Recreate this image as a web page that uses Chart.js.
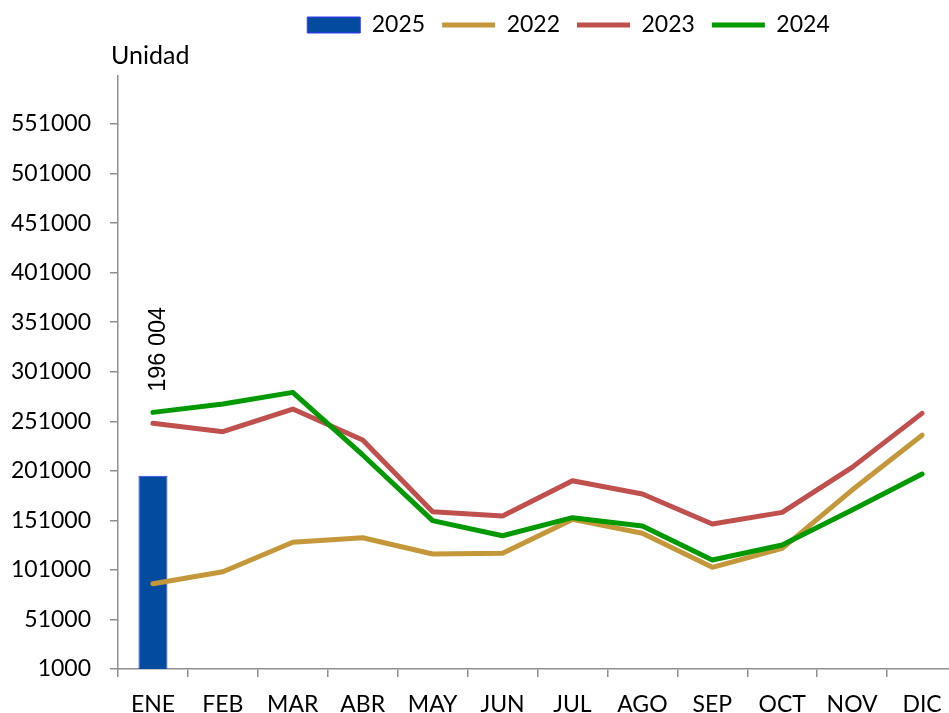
<!DOCTYPE html>
<html>
<head>
<meta charset="utf-8">
<script src="https://cdn.jsdelivr.net/npm/chart.js@4.4.1/dist/chart.umd.min.js"></script>
<style>
  html, body { margin: 0; padding: 0; overflow: hidden; background: #fff; }
  canvas { display: block; }
</style>
</head>
<body>
<canvas id="chart" width="957" height="713"></canvas>
<script>
var meses = ['ENE', 'FEB', 'MAR', 'ABR', 'MAY', 'JUN', 'JUL', 'AGO', 'SEP', 'OCT', 'NOV', 'DIC'];
var serie2025 = [196004];
var serie2022 = [87000, 99200, 128900, 133500, 117100, 117800, 152000, 138000, 103600, 122800, 181600, 237000];
var serie2023 = [249000, 240500, 263400, 232100, 159800, 155400, 191000, 177600, 147300, 159100, 204500, 259000];
var serie2024 = [260000, 268400, 280200, 217000, 150700, 135500, 153700, 145300, 111000, 126100, 161500, 197800];
var ticksY = [1000, 51000, 101000, 151000, 201000, 251000, 301000, 351000, 401000, 451000, 501000, 551000];

document.addEventListener('DOMContentLoaded', function() {
    var canvas = document.getElementById('chart');
    var ctx = canvas.getContext('2d');
    var fuente = 'Lato, "Open Sans", sans-serif';
    var gris = '#8f8f8f';

    // rotated value above the 2025 bar
    var etiquetaBarra = {
        id: 'etiquetaBarra',
        afterDatasetsDraw: function(chart) {
            var meta = chart.getDatasetMeta(0);
            var c = chart.ctx;
            meta.data.forEach(function(bar, i) {
                var v = chart.data.datasets[0].data[i];
                var txt = String(v).replace(/\B(?=(\d{3})+(?!\d))/g, ' ');
                c.save();
                c.translate(bar.x + 6, bar.y - 84);
                c.rotate(-Math.PI / 2);
                c.font = '23.5px "Liberation Sans", Arial, sans-serif';
                c.fillStyle = '#000';
                c.textAlign = 'left';
                c.textBaseline = 'middle';
                c.fillText(txt, 0, 0);
                c.restore();
            });
        }
    };

    // "Unidad" above the y axis
    var tituloEje = {
        id: 'tituloEje',
        afterDraw: function(chart) {
            var c = chart.ctx;
            c.save();
            c.font = '25px ' + fuente;
            c.fillStyle = '#000';
            c.textAlign = 'left';
            c.textBaseline = 'alphabetic';
            c.fillText('Unidad', chart.chartArea.left - 7, chart.chartArea.top - 12);
            c.restore();
        }
    };

    // legend sits right of the canvas centre and higher up in the original
    var moverLeyenda = {
        id: 'moverLeyenda',
        afterLayout: function(chart) {
            chart.legend.left += 90;
            chart.legend.right += 90;
            chart.legend.top -= 29;
            chart.legend.bottom -= 29;
        }
    };

    var data = {
        labels: meses,
        datasets: [
            {
                type: 'bar',
                label: '2025',
                data: serie2025,
                backgroundColor: '#024B9E',
                borderColor: '#3838FF',
                borderWidth: 1,
                barPercentage: 0.415,
                categoryPercentage: 1,
                order: 4
            },
            {
                type: 'line',
                label: '2022',
                data: serie2022,
                borderColor: '#C4983A',
                backgroundColor: '#C4983A',
                borderWidth: 5,
                pointRadius: 0,
                borderCapStyle: 'round',
                borderJoinStyle: 'round',
                tension: 0,
                order: 3
            },
            {
                type: 'line',
                label: '2023',
                data: serie2023,
                borderColor: '#C0504D',
                backgroundColor: '#C0504D',
                borderWidth: 5,
                pointRadius: 0,
                borderCapStyle: 'round',
                borderJoinStyle: 'round',
                tension: 0,
                order: 2
            },
            {
                type: 'line',
                label: '2024',
                data: serie2024,
                borderColor: '#009A00',
                backgroundColor: '#009A00',
                borderWidth: 5,
                pointRadius: 0,
                borderCapStyle: 'round',
                borderJoinStyle: 'round',
                tension: 0,
                order: 1
            }
        ]
    };

    var options = {
        responsive: false,
        animation: false,
        layout: { padding: { left: 0, right: 0, top: 25.5, bottom: 0 } },
        plugins: {
            tooltip: { enabled: false },
            legend: {
                position: 'top',
                labels: {
                    font: { family: fuente, size: 23 },
                    color: '#000',
                    usePointStyle: true,
                    pointStyleWidth: 53,
                    boxHeight: 16,
                    padding: 17,
                    sort: function(a, b) { return a.datasetIndex - b.datasetIndex; },
                    generateLabels: function(chart) {
                        var items = Chart.defaults.plugins.legend.labels.generateLabels(chart);
                        items.forEach(function(it) {
                            it.pointStyle = it.datasetIndex === 0 ? 'rect' : 'line';
                        });
                        return items;
                    }
                }
            }
        },
        scales: {
            x: {
                type: 'category',
                offset: true,
                afterFit: function(scale) { scale.height = 44; },
                grid: { offset: true, drawOnChartArea: false, tickLength: 8, color: gris, lineWidth: 1.5 },
                border: { color: gris, width: 1.5 },
                ticks: { font: { family: fuente, size: 23 }, color: '#000', padding: 14, maxRotation: 0 }
            },
            y: {
                min: 1000,
                max: 600000,
                afterFit: function(scale) { scale.width = 118; },
                afterBuildTicks: function(scale) {
                    scale.ticks = ticksY.map(function(v) { return { value: v }; });
                },
                grid: { drawOnChartArea: false, tickLength: 8, color: gris, lineWidth: 1.5 },
                border: { color: gris, width: 1.5 },
                ticks: {
                    font: { family: fuente, size: 23 },
                    color: '#000',
                    padding: 19,
                    callback: function(v) { return String(v); }
                }
            }
        }
    };

    new Chart(ctx, {
        type: 'bar',
        data: data,
        options: options,
        plugins: [etiquetaBarra, tituloEje, moverLeyenda]
    });
});
</script>
</body>
</html>
